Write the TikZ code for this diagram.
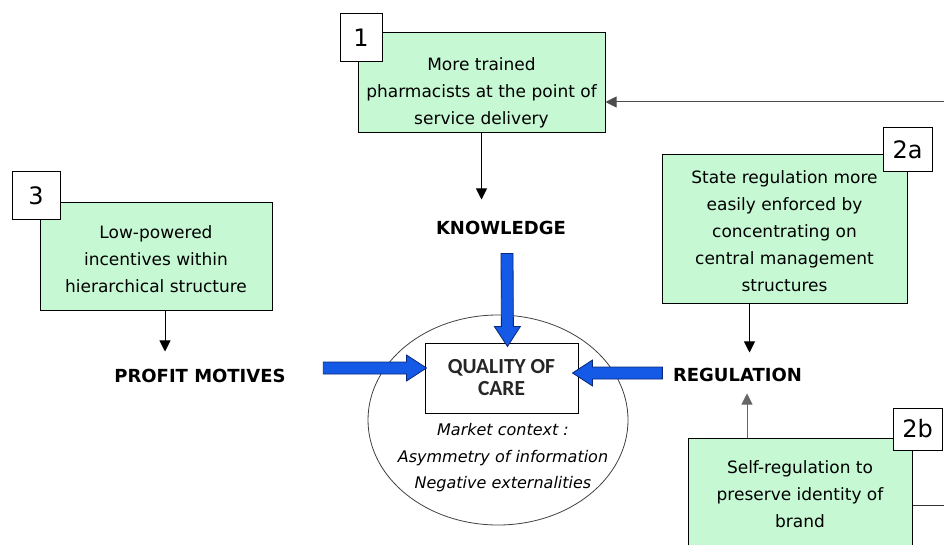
\documentclass[tikz,border=0pt]{standalone}
\usepackage{fontspec}
\setmainfont{DejaVu Sans}
\newfontfamily\headfont{DejaVu Sans}
\newfontfamily\qfont{Carlito}
\usetikzlibrary{arrows.meta,shapes.geometric,calc}
\definecolor{mint}{RGB}{198,248,212}
\definecolor{arrowblue}{RGB}{20,90,230}
\definecolor{arrowedge}{RGB}{10,40,120}
% block arrow from #1 to tip #2
\newcommand\blockarr[2]{%
  \coordinate (ba) at ($(#2)!20pt!(#1)$);
  \filldraw[blockarrow] ($(#1)!6pt!90:(#2)$) -- ($(ba)!6pt!90:(#2)$) -- ($(ba)!13pt!90:(#2)$) -- (#2)
    -- ($(ba)!13pt!-90:(#2)$) -- ($(ba)!6pt!-90:(#2)$) -- ($(#1)!6pt!-90:(#2)$) -- cycle;}

\begin{document}
\begin{tikzpicture}[x=1pt, y=-1pt, >={Triangle[length=11pt,width=11pt]},
    factor/.style={draw, fill=mint, line width=1pt},
    tagbox/.style={draw, fill=white, line width=1pt, font=\fontsize{24}{24}\selectfont},
    boxtext/.style={align=center, font=\fontsize{17}{27}\selectfont},
    driver/.style={inner sep=2pt, font=\headfont\bfseries\fontsize{18}{20}\selectfont},
    blockarrow/.style={fill=arrowblue, draw=arrowedge, line width=0.8pt}]
    \useasboundingbox (0,0) rectangle (944,545);
    \clip (0,0) rectangle (944,545);

    % market context
    \node[ellipse, draw=black!75, line width=0.8pt, minimum width=260pt, minimum height=210pt] (ctx) at (498,420) {};
    \node[align=center, font=\headfont\itshape\fontsize{16}{26.5}\selectfont] (mk) at (503,458)
      {Market context :\\Asymmetry of information\\Negative externalities};
    % quality of care
    \node[draw, fill=white, line width=1pt, minimum width=153pt, minimum height=70pt, align=center,
      text=black!85, font=\qfont\bfseries\fontsize{21.5}{22}\selectfont] (q) at (501.5,378) {QUALITY OF\\CARE};

    % factor boxes
    \node[factor, minimum width=247pt, minimum height=100pt] (b1) at (481.5,83) {};
    \node[boxtext] at ([yshift=-10pt]b1.center) {More trained\\pharmacists at the point of\\service delivery};
    \node[factor, minimum width=232pt, minimum height=107pt] (b3) at (156,256.5) {};
    \node[boxtext] at ([yshift=-2.5pt]b3.center) {Low-powered\\incentives within\\hierarchical structure};
    \node[factor, minimum width=245pt, minimum height=148pt] (b2a) at (784.5,229) {};
    \node[boxtext] at ([yshift=-2pt]b2a.center) {State regulation more\\easily enforced by\\concentrating on\\central management\\structures};
    \node[factor, minimum width=224pt, minimum height=132pt] (b2b) at (800,504) {};
    \node[boxtext] at ([yshift=-57pt]b2b.north) {Self-regulation to\\preserve identity of\\brand};

    % number tags
    \node[tagbox, minimum width=42pt, minimum height=48pt] (t1) at (361,38) {1};
    \node[tagbox, minimum width=48pt, minimum height=48pt] (t3) at (36,196) {3};
    \node[tagbox, minimum width=49pt, minimum height=44pt] (t2a) at (907.5,150) {2a};
    \node[tagbox, minimum width=49pt, minimum height=42pt] (t2b) at (917.5,429) {2b};

    % drivers
    \node[driver] (know) at (501,228) {KNOWLEDGE};
    \node[driver] (profit) at (200,376) {PROFIT MOTIVES};
    \node[driver] (reg) at (737.5,375) {REGULATION};

    % feedback lines from the right
    \coordinate (fb1) at (944,102);
    \draw[->, line width=1pt, black!70] (fb1) -- (fb1 -| b1.east);
    \coordinate (fb2) at (944,505);
    \draw[line width=1pt, black!80] (fb2 -| b2b.east) -- (fb2);

    % thin arrows
    \draw[->, line width=0.9pt, shorten >=19.5pt] (b1.south) -- (b1.south |- know.north);
    \coordinate (a3) at ([xshift=9pt]b3.south);
    \draw[->, line width=0.9pt, shorten >=15.5pt] (a3) -- (a3 |- profit.north);
    \coordinate (a2a) at ([xshift=-35pt]b2a.south);
    \draw[->, line width=0.9pt, shorten >=13.5pt] (a2a) -- (a2a |- reg.north);
    \coordinate (a2b) at ([xshift=-53pt]b2b.north);
    \draw[->, line width=0.9pt, black!60, shorten >=9.5pt] (a2b) -- (a2b |- reg.south);

    % block arrows
    \coordinate (ks) at ([xshift=6pt,yshift=-16.5pt]know.south);
    \coordinate (kt) at ([xshift=6pt,yshift=-4pt]q.north);
    \blockarr{ks}{kt}
    \coordinate (ps) at ([xshift=35.5pt,yshift=8pt]profit.east);
    \coordinate (pt) at ([xshift=2pt,yshift=10pt]q.west);
    \blockarr{ps}{pt}
    \coordinate (rs) at ([xshift=-8.5pt,yshift=2pt]reg.west);
    \coordinate (rt) at ([xshift=-6pt,yshift=5pt]q.east);
    \blockarr{rs}{rt}
  \end{tikzpicture}
\end{document}
